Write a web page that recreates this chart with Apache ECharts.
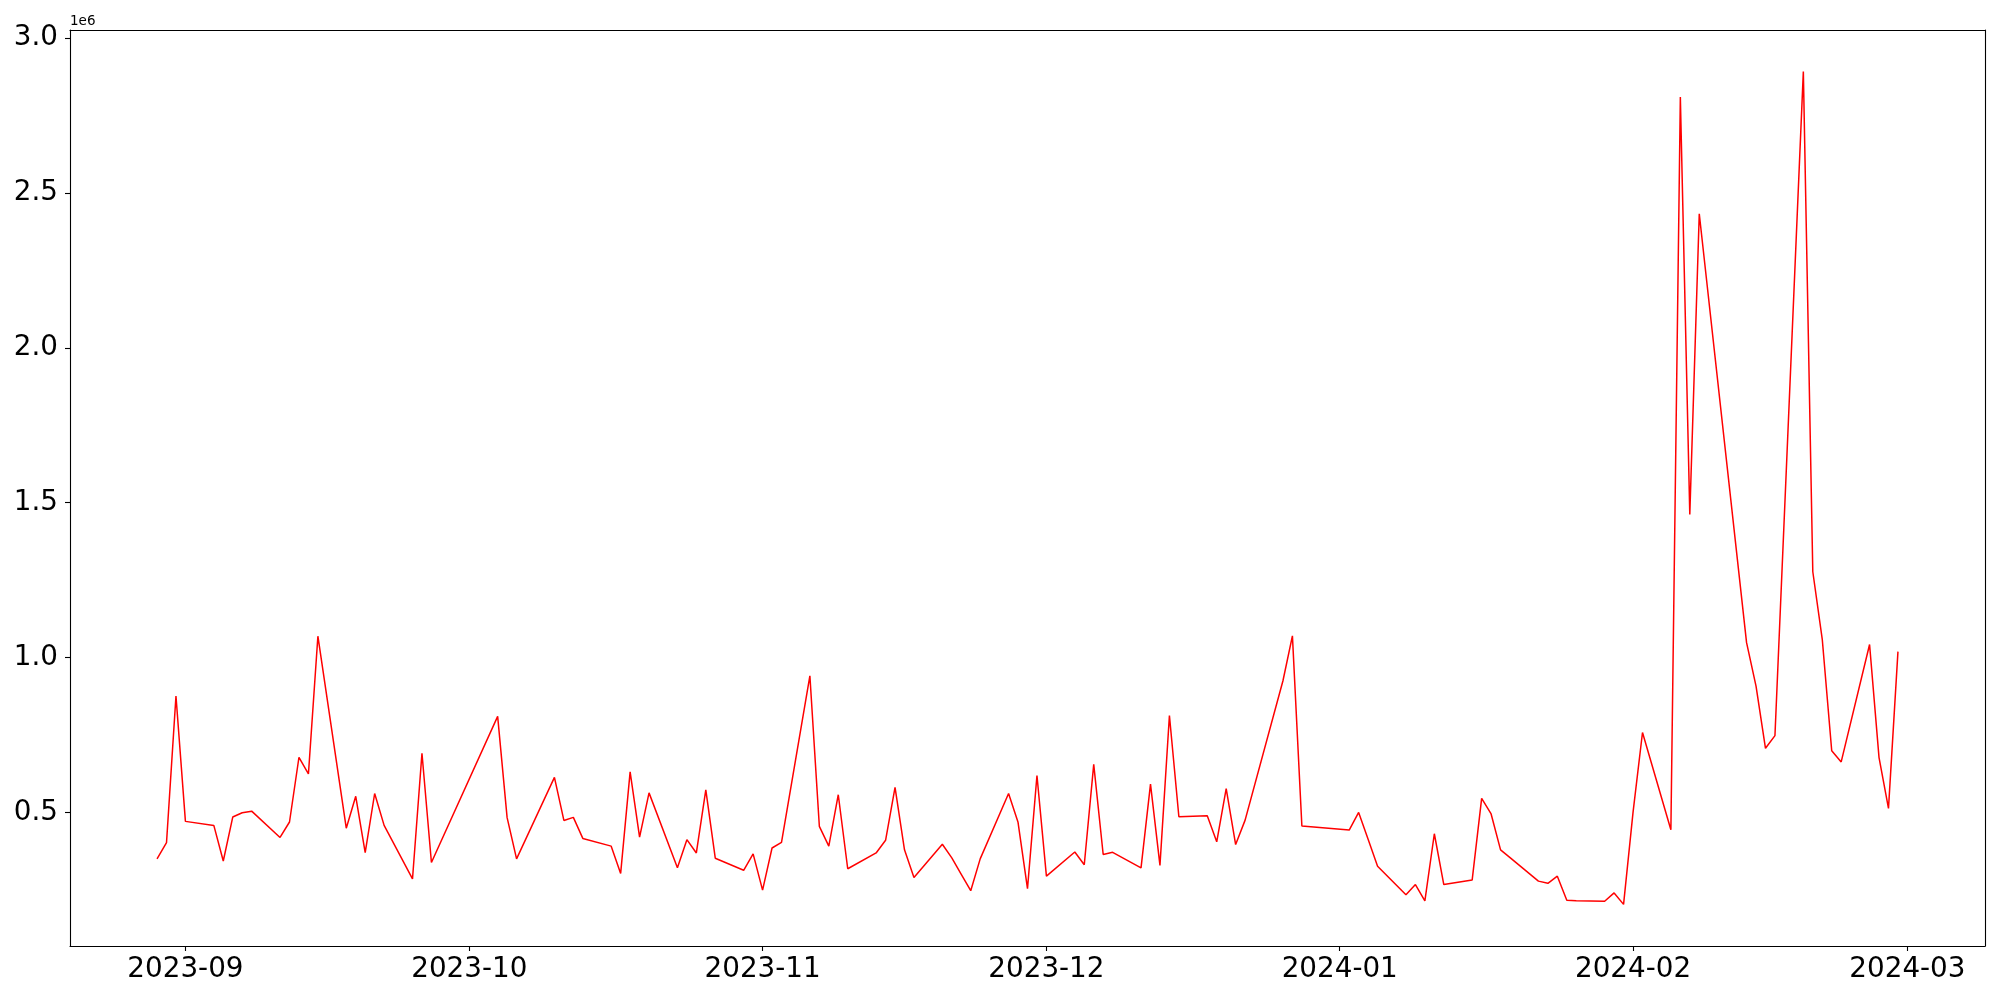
<!DOCTYPE html>
<html>
<head>
<meta charset="utf-8">
<script src="https://cdn.jsdelivr.net/npm/echarts@6/dist/echarts.min.js"></script>
<style>
html,body{margin:0;padding:0;background:#fff;}
#chart{width:2000px;height:1000px;}
</style>
</head>
<body>
<div id="chart"></div>
<script>
// ---- data ----
const dates = [
'2023-08-29','2023-08-30','2023-08-31','2023-09-01','2023-09-04','2023-09-05','2023-09-06','2023-09-07','2023-09-08',
'2023-09-11','2023-09-12','2023-09-13','2023-09-14','2023-09-15','2023-09-18','2023-09-19','2023-09-20','2023-09-21','2023-09-22',
'2023-09-25','2023-09-26','2023-09-27','2023-10-04','2023-10-05','2023-10-06','2023-10-10','2023-10-11','2023-10-12','2023-10-13',
'2023-10-16','2023-10-17','2023-10-18','2023-10-19','2023-10-20','2023-10-23','2023-10-24','2023-10-25','2023-10-26','2023-10-27',
'2023-10-30','2023-10-31','2023-11-01','2023-11-02','2023-11-03','2023-11-06','2023-11-07','2023-11-08','2023-11-09','2023-11-10',
'2023-11-13','2023-11-14','2023-11-15','2023-11-16','2023-11-17','2023-11-20','2023-11-21','2023-11-22','2023-11-23','2023-11-24',
'2023-11-27','2023-11-28','2023-11-29','2023-11-30','2023-12-01','2023-12-04','2023-12-05','2023-12-06','2023-12-07','2023-12-08',
'2023-12-11','2023-12-12','2023-12-13','2023-12-14','2023-12-15','2023-12-18','2023-12-19','2023-12-20','2023-12-21','2023-12-22',
'2023-12-26','2023-12-27','2023-12-28','2024-01-02','2024-01-03','2024-01-04','2024-01-05','2024-01-08','2024-01-09','2024-01-10',
'2024-01-11','2024-01-12','2024-01-15','2024-01-16','2024-01-17','2024-01-18','2024-01-19','2024-01-22','2024-01-23','2024-01-24',
'2024-01-25','2024-01-26','2024-01-29','2024-01-30','2024-01-31','2024-02-01','2024-02-02','2024-02-05','2024-02-06','2024-02-07',
'2024-02-08','2024-02-13','2024-02-14','2024-02-15','2024-02-16','2024-02-19','2024-02-20','2024-02-21','2024-02-22','2024-02-23',
'2024-02-26','2024-02-27','2024-02-28','2024-02-29'
];
const values = [
350000,402000,876000,471000,458000,343000,485000,499000,504000,
419000,469000,678000,624000,1069000,449000,552000,370000,561000,458000,
285000,691000,338000,810000,483000,350000,613000,474000,484000,416000,
391000,303000,631000,420000,563000,321000,412000,369000,573000,352000,
313000,366000,249000,385000,403000,941000,455000,391000,557000,318000,
369000,410000,581000,379000,290000,397000,353000,300000,247000,350000,
561000,468000,254000,619000,294000,372000,331000,655000,364000,371000,
321000,591000,329000,813000,486000,489000,405000,577000,396000,475000,
925000,1070000,456000,443000,500000,413000,326000,234000,267000,214000,
431000,267000,282000,545000,495000,379000,354000,278000,271000,294000,
216000,215000,213000,240000,203000,500000,758000,444000,2810000,1462000,
2433000,1048000,908000,707000,748000,2892000,1277000,1059000,699000,663000,
1042000,677000,513000,1019000
];
const xTickLabels = ['2023-09','2023-10','2023-11','2023-12','2024-01','2024-02','2024-03'];
const yTickValues = [500000,1000000,1500000,2000000,2500000,3000000];

// ---- helpers ----
function ts(s){ const p = s.split('-').map(Number); return new Date(p[0], p[1]-1, p[2] || 1).getTime(); }
const seriesData = dates.map((d,i) => [ts(d), values[i]]);
const xs = seriesData.map(p => p[0]);
const xMinD = Math.min(...xs), xMaxD = Math.max(...xs);
const xPad = (xMaxD - xMinD) * 0.05;
const yMinD = Math.min(...values), yMaxD = Math.max(...values);
const yPad = (yMaxD - yMinD) * 0.05;
const xTickValues = xTickLabels.map(ts);

const chart = echarts.init(document.getElementById('chart'), null, {renderer:'canvas'});
const FONT = 'DejaVu Sans';
const spine = {show: true, onZero: false, lineStyle: {color: '#000', width: 1.1}};
chart.setOption({
  animation: false,
  backgroundColor: '#ffffff',
  grid: {left: 70, right: 15, top: 30, bottom: 54, show: false, containLabel: false},
  xAxis: [{
    type: 'value',
    position: 'bottom',
    min: xMinD - xPad,
    max: xMaxD + xPad,
    splitLine: {show: false},
    axisLine: spine,
    axisTick: {show: true, length: 5, lineStyle: {color: '#000', width: 1.1}, customValues: xTickValues},
    axisLabel: {
      customValues: xTickValues,
      color: '#000', fontFamily: FONT, fontSize: 27.8, margin: 10,
      formatter: function(v){ const d = new Date(v); return d.getFullYear() + '-' + String(d.getMonth()+1).padStart(2,'0'); }
    }
  }, {
    type: 'value',
    position: 'top',
    min: xMinD - xPad,
    max: xMaxD + xPad,
    splitLine: {show: false},
    axisLine: spine,
    axisTick: {show: false},
    axisLabel: {show: false}
  }],
  yAxis: [{
    type: 'value',
    position: 'left',
    min: yMinD - yPad,
    max: yMaxD + yPad,
    name: '1e6',
    nameLocation: 'end',
    nameGap: 2,
    nameTextStyle: {align: 'left', verticalAlign: 'bottom', fontFamily: FONT, fontSize: 13.5, color: '#000', padding: [0,0,0,0]},
    splitLine: {show: false},
    axisLine: spine,
    axisTick: {show: true, length: 5, lineStyle: {color: '#000', width: 1.1}, customValues: yTickValues},
    axisLabel: {
      customValues: yTickValues,
      color: '#000', fontFamily: FONT, fontSize: 27.8, margin: 12,
      formatter: function(v){ return (v/1e6).toFixed(1); }
    }
  }, {
    type: 'value',
    position: 'right',
    min: yMinD - yPad,
    max: yMaxD + yPad,
    splitLine: {show: false},
    axisLine: spine,
    axisTick: {show: false},
    axisLabel: {show: false}
  }],
  series: [{
    type: 'line',
    xAxisIndex: 0,
    yAxisIndex: 0,
    data: seriesData,
    showSymbol: false,
    symbol: 'none',
    lineStyle: {color: '#ff0000', width: 1.5},
    itemStyle: {color: '#ff0000'}
  }]
});
</script>
</body>
</html>
